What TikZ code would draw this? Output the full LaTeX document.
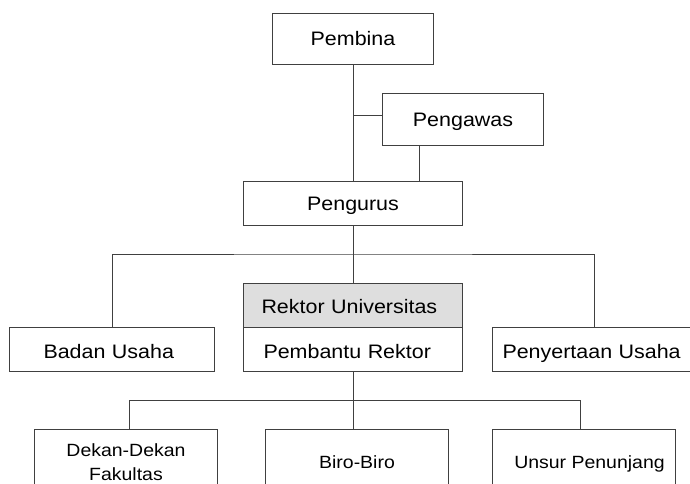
\documentclass[tikz,border=0pt]{standalone}
\usepackage{fontspec}
\setmainfont[FakeStretch=1.1]{Liberation Sans}
\definecolor{edge}{RGB}{64,64,64}
\definecolor{headfill}{RGB}{222,222,222}
\newcommand{\bigtxt}{\fontsize{19.5}{22}\selectfont}
\newcommand{\smalltxt}{\fontsize{17.7}{24.3}\selectfont}
\begin{document}
\begin{tikzpicture}[x=1pt,y=-1pt,
  orgbox/.style={draw=edge, line width=1pt, rectangle, inner sep=0pt,
    anchor=north west, font=\bigtxt, text height=14pt, text depth=0pt},
  lowbox/.style={orgbox, font=\smalltxt, text height=12.7pt},
  link/.style={draw=edge, line width=1pt}]
\useasboundingbox (0,0) rectangle (690,483);
\clip (0,0) rectangle (690,483);

% top levels
\node[orgbox, minimum width=161pt, minimum height=51pt, text height=13pt] (pembina) at (272,13) {Pembina};
\node[orgbox, minimum width=161pt, minimum height=52pt] (pengawas) at (382,93) {Pengawas};
\node[orgbox, minimum width=219pt, minimum height=44pt] (pengurus) at (243,181) {Pengurus};

% rector block: head row and assistant row
\node[orgbox, fill=headfill, minimum width=219pt, minimum height=44pt,
  text width=183pt, inner xsep=18pt, align=left, text height=16.5pt] (rektor) at (243,283) {Rektor Universitas};
\node[orgbox, minimum width=219pt, minimum height=44pt,
  text width=179pt, inner xsep=20pt, align=left, text height=17pt] (pembantu) at (243,327) {Pembantu Rektor};

% side units
\node[orgbox, minimum width=205pt, minimum height=44pt,
  text width=137pt, inner xsep=34pt, align=left, text height=17pt] (badan) at (9,327) {Badan Usaha};
\node[orgbox, minimum width=210pt, minimum height=44pt,
  text width=190pt, inner xsep=10pt, align=left, text height=17pt] (penyertaan) at (492,327) {Penyertaan Usaha};

% lower units
\node[lowbox, minimum width=183pt, minimum height=64.6pt,
  text height=37pt, align=center, xshift=3pt] (dekan) at (31,429) {Dekan-Dekan\\Fakultas};
\node[lowbox, minimum width=183pt, minimum height=64.6pt] (biro) at (265,429) {Biro-Biro};
\node[lowbox, minimum width=183pt, minimum height=64.6pt] (unsur) at (492,429) {\hspace*{11pt}Unsur Penunjang};

% connectors
\coordinate (busA) at (352.7,254);
\coordinate (busB) at (352.7,400);
\draw[link] (pembina.south) -- (pembina.south |- pengurus.north);
\draw[link] ([yshift=4pt]pengawas.west) -- ([yshift=4pt]pengawas.west -| pembina.south);
\draw[link] ([xshift=-44pt]pengawas.south) -- ([xshift=-44pt]pengawas.south |- pengurus.north);
\draw[link] (pengurus.south) -- (pengurus.south |- rektor.north);
\draw[link] (badan.north) |- (busA) -| ([xshift=-3pt]penyertaan.north);
\draw[link] (pembantu.south) -- (pembantu.south |- biro.north);
\draw[link] ([xshift=3.5pt]dekan.north) |- (busB) -| ([xshift=-4pt]unsur.north);
\end{tikzpicture}
\end{document}
